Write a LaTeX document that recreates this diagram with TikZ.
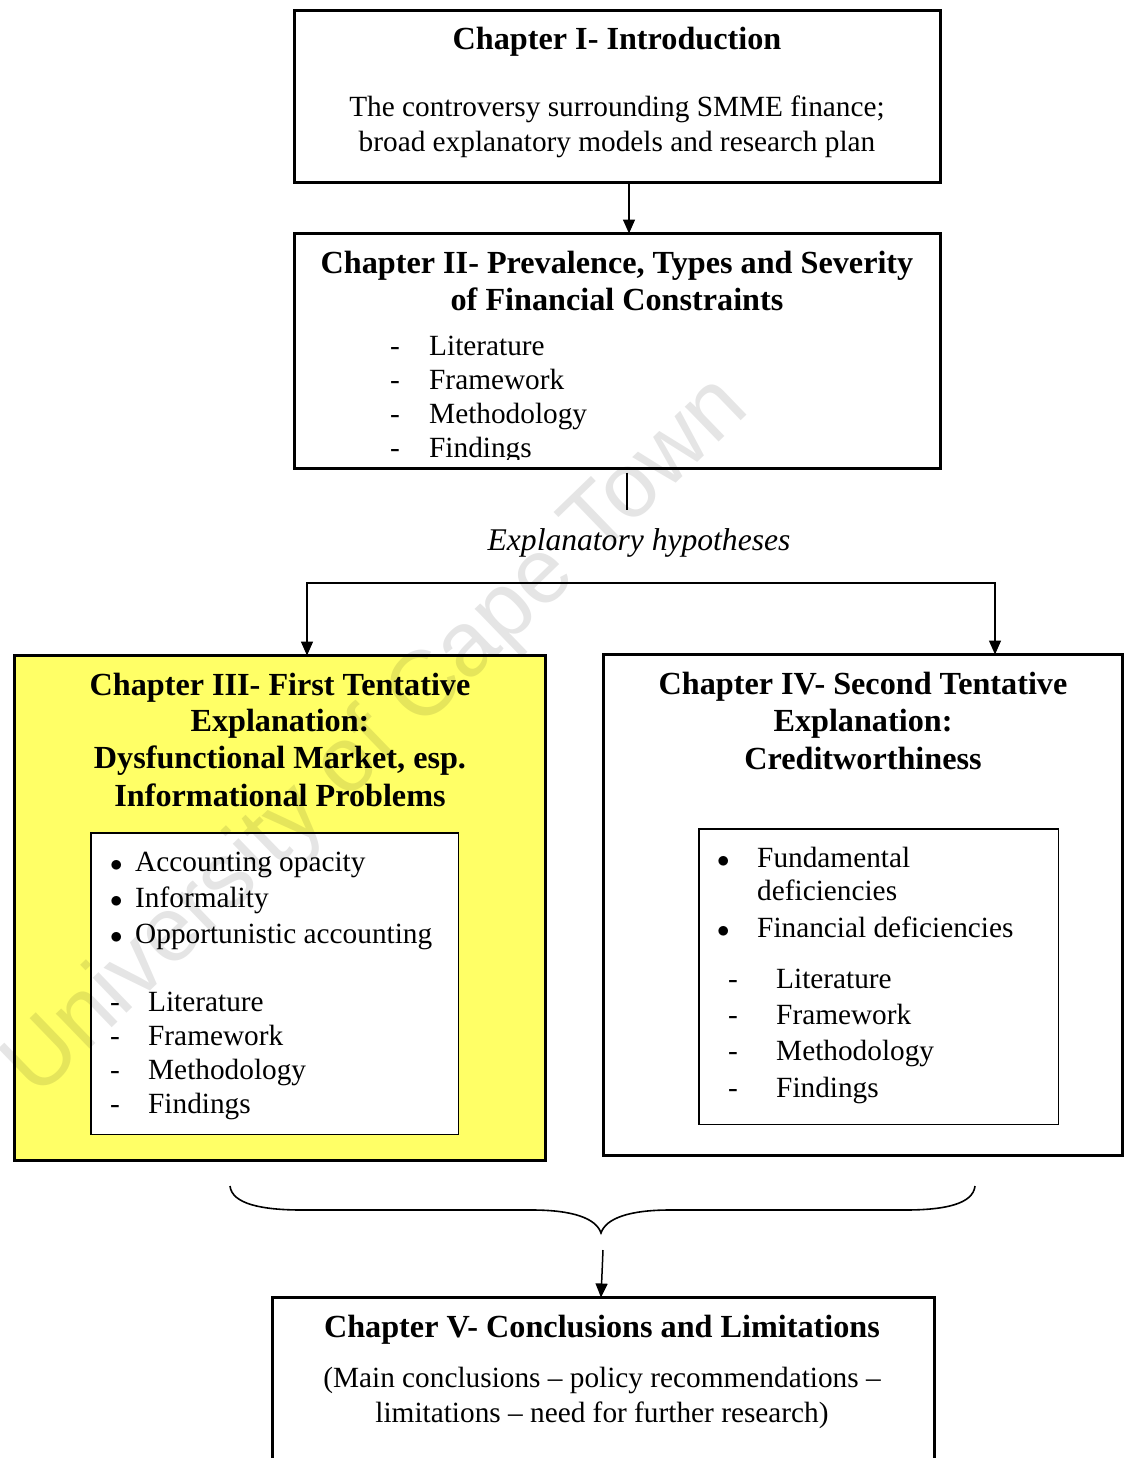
\documentclass[tikz,border=0pt]{standalone}
\usepackage{fontspec}
\setmainfont{Liberation Serif}
\newfontfamily\wmfont{Liberation Sans}
\usetikzlibrary{arrows.meta}
\definecolor{boxyellow}{RGB}{255,255,102}
\tikzset{
  outer/.style={draw, line width=3pt, inner sep=0pt, outer sep=0pt, anchor=north west},
  inner/.style={draw, line width=1.5pt, fill=white, inner sep=0pt, outer sep=0pt, anchor=north west},
  head/.style={font=\fontsize{32.2}{38}\selectfont\bfseries, anchor=base, inner sep=0pt},
  body/.style={font=\fontsize{29.3}{35}\selectfont, anchor=base, inner sep=0pt},
  item/.style={font=\fontsize{29.3}{35}\selectfont, anchor=base west, inner sep=0pt},
  link/.style={line width=1.5pt},
  tip/.style={-{Triangle[length=14pt,width=12pt]}},
  wmark/.style={font=\wmfont\fontsize{92}{92}\selectfont, text=black, text opacity=0.1, inner sep=0pt},
}
\newcommand{\bul}{$\bullet$}
\begin{document}
\begin{tikzpicture}[x=1pt,y=-1pt]
\clip (0,0) rectangle (1129,1458);
\fill[white] (0,0) rectangle (1129,1458);

% chapter boxes
\node[outer, minimum width=646, minimum height=172] (c1) at (294.5,10.5) {};
\node[outer, minimum width=646, minimum height=235] (c2) at (294.5,233.5) {};
\node[outer, fill=boxyellow, minimum width=531, minimum height=505] (c3) at (14.5,655.5) {};
\node[outer, minimum width=519, minimum height=501] (c4) at (603.5,654.5) {};
\node[outer, minimum width=662, minimum height=200] (c5) at (272.5,1297.5) {};
\node[inner, minimum width=367.5, minimum height=301.5] (i3) at (90.75,832.75) {};
\node[inner, minimum width=359.5, minimum height=295.5] (i4) at (698.75,828.75) {};

% Chapter I
\node[head] (t1) at (617,50) {Chapter I- Introduction};
\node[body] (b1a) at (617,117) {The controversy surrounding SMME finance;};
\node[body] (b1b) at (617,152) {broad explanatory models and research plan};

% Chapter II
\node[head] (t2a) at (617,273) {Chapter II- Prevalence, Types and Severity};
\node[head] (t2b) at (617,310) {of Financial Constraints};
\begin{scope}
  \clip (296,235) rectangle (939,459);
  \foreach \txt [count=\k] in {Literature,Framework,Methodology,Findings} {
    \node[item] (d2\k) at (390,{321+\k*34}) {-};
    \node[item] (l2\k) at (429,{321+\k*34}) {\txt};
  }
\end{scope}

% hypotheses label
\node[body, font=\fontsize{31.6}{37}\selectfont\itshape] (hyp) at (639,550) {Explanatory hypotheses};

% Chapter III
\node[head] (t3a) at (280,695) {Chapter III- First Tentative};
\node[head] (t3b) at (280,731) {Explanation:};
\node[head] (t3c) at (280,768) {Dysfunctional Market, esp.};
\node[head] (t3d) at (280,806) {Informational Problems};
\foreach \txt [count=\k] in {Accounting opacity,Informality,Opportunistic accounting} {
  \node[item] (p3\k) at (110,{835+\k*36}) {\bul};
  \node[item] (q3\k) at (135,{835+\k*36}) {\txt};
}
\foreach \txt [count=\k] in {Literature,Framework,Methodology,Findings} {
  \node[item] (d3\k) at (110,{977+\k*34}) {-};
  \node[item] (l3\k) at (148,{977+\k*34}) {\txt};
}

% Chapter IV
\node[head] (t4a) at (863,694) {Chapter IV- Second Tentative};
\node[head] (t4b) at (863,731) {Explanation:};
\node[head] (t4c) at (863,769) {Creditworthiness};
\node[item] (p41) at (717,867) {\bul};
\node[item] (q41) at (757,867) {Fundamental};
\node[item] (q42) at (757,900) {deficiencies};
\node[item] (p42) at (717,937) {\bul};
\node[item] (q43) at (757,937) {Financial deficiencies};
\foreach \txt [count=\k] in {Literature,Framework,Methodology,Findings} {
  \node[item] (d4\k) at (728,{952+\k*36.3}) {-};
  \node[item] (l4\k) at (776,{952+\k*36.3}) {\txt};
}

% Chapter V
\node[head] (t5) at (602,1337) {Chapter V- Conclusions and Limitations};
\node[body] (b5a) at (602,1387) {(Main conclusions -- policy recommendations --};
\node[body] (b5b) at (602,1422) {limitations -- need for further research)};

% connectors
\coordinate (x1) at (629,0);
\draw[link, tip] (c1.south -| x1) -- (c2.north -| x1);
\coordinate (h1) at (627,510);
\draw[link] (c2.south -| h1) ++(0,4) -- (h1);
\coordinate (sl) at (307,583);
\coordinate (sr) at (995,583);
\draw[link, {Triangle[length=14pt,width=12pt]}-{Triangle[length=14pt,width=12pt]}]
  (c3.north -| sl) -- (sl) -- (sr) -- (c4.north -| sr);

% brace gathering chapters III and IV
\coordinate (bl) at (230,1186);
\coordinate (bm) at (601,1233);
\coordinate (br) at (975,1186);
\draw[line width=1.6pt]
  (bl) .. controls (232,1204) and (262,1210) .. (302,1210) -- (532,1210)
  .. controls (572,1210) and (596,1218) .. (bm)
  .. controls (606,1218) and (630,1210) .. (670,1210) -- (905,1210)
  .. controls (945,1210) and (973,1204) .. (br);
\coordinate (ax) at (603,1250);
\coordinate (ay) at (601,0);
\draw[link, tip] (ax) -- (c5.north -| ay);

% watermark
\node[wmark, rotate=44] (wm) at (378,738) {University of Cape Town};
\end{tikzpicture}
\end{document}
